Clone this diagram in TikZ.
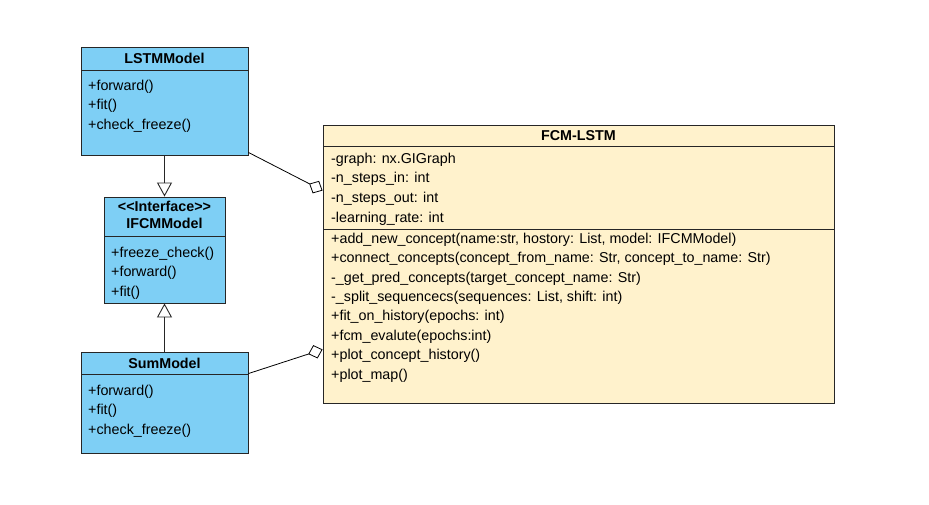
\documentclass[tikz,border=0pt]{standalone}
\usepackage{fontspec}
\setmainfont{Liberation Sans}
\usepackage{tikz}
\usetikzlibrary{arrows.meta,positioning}
\definecolor{classblue}{HTML}{7ECFF5}
\definecolor{classcream}{HTML}{FFF2CC}

\begin{document}
\begin{tikzpicture}[x=1pt,y=-1pt,
classbox/.style={draw=black!85,line width=0.9pt,inner sep=0pt},
classname/.style={font=\fontsize{14.3}{16.5}\selectfont\bfseries,align=center,inner sep=0pt},
members/.style={font=\fontsize{14.3}{19.4}\selectfont,align=left,inner sep=0pt,anchor=north west},
inherit/.style={draw=black!85,line width=0.9pt,-{Triangle[open,width=15pt,length=14pt]}},
aggr/.style={draw=black,line width=0.8pt,-{Diamond[open,width=14pt,length=15pt]}}]
\useasboundingbox (0,0) rectangle (929,505);
% classes
\node[classbox,fill=classblue,minimum width=167pt,minimum height=108pt] (lstm) at (164.5,101) {};
\node[classbox,fill=classblue,minimum width=121pt,minimum height=106pt] (ifcm) at (164.5,250) {};
\node[classbox,fill=classblue,minimum width=167pt,minimum height=101pt] (sum) at (164.5,402.5) {};
\node[classbox,fill=classcream,minimum width=511pt,minimum height=278pt] (fcm) at (578.5,264) {};
% headers
\node[classname] (lstmname) at (164.5,58) {LSTMModel};
\node[classname] (ifcmname) at (164.5,215) {{<}{<}Interface{>}{>}\\IFCMModel};
\node[classname] (sumname) at (164.5,363) {SumModel};
\node[classname] (fcmname) at (578.5,135.5) {FCM-LSTM};
\draw[line width=0.9pt,draw=black!85] (81,70) -- (248,70) (104,236) -- (225,236)
  (81,374) -- (248,374) (323,146) -- (834,146) (323,229) -- (834,229);
% members
\node[members] (lstmops) at (88,79.8) {+forward()\\+fit()\\+check\_freeze()};
\node[members] (ifcmops) at (111,246.8) {+freeze\_check()\\+forward()\\+fit()};
\node[members] (sumops) at (88,384.8) {+forward()\\+fit()\\+check\_freeze()};
\node[members,font=\fontsize{14.3}{19.7}\selectfont] (fcmattrs) at (331,152.5) {-graph: nx.GIGraph\\-n\_steps\_in: int\\-n\_steps\_out: int\\-learning\_rate: int};
\node[members] (fcmops) at (331,232.8) {+add\_new\_concept(name:str, hostory: List, model: IFCMModel)\\
+connect\_concepts(concept\_from\_name: Str, concept\_to\_name: Str)\\
-\_get\_pred\_concepts(target\_concept\_name: Str)\\
-\_split\_sequencecs(sequences: List, shift: int)\\
+fit\_on\_history(epochs: int)\\
+fcm\_evalute(epochs:int)\\
+plot\_concept\_history()\\
+plot\_map()};
% relations
\draw[inherit] (lstm.south) -- (ifcm.north);
\draw[inherit] (sum.north) -- (ifcm.south);
\draw[aggr] ([yshift=3pt]lstm.south east) -- ([yshift=-66pt]fcm.north west);
\draw[aggr] ([yshift=-22pt]sum.north east) -- ([yshift=54pt]fcm.south west);
\end{tikzpicture}
\end{document}
